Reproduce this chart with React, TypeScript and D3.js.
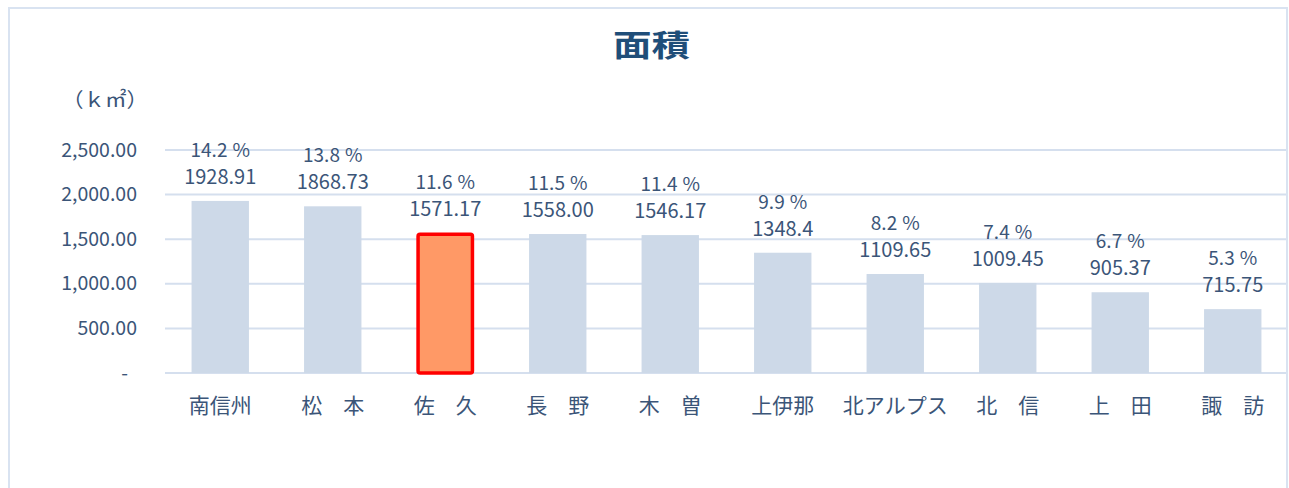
import React from "react";
import * as d3 from "d3";

const categories = ["南信州", "松　本", "佐　久", "長　野", "木　曽", "上伊那", "北アルプス", "北　信", "上　田", "諏　訪"];
const areas = [1928.91, 1868.73, 1571.17, 1558.0, 1546.17, 1348.4, 1109.65, 1009.45, 905.37, 715.75];
const areaLabels = ["1928.91", "1868.73", "1571.17", "1558.00", "1546.17", "1348.4", "1109.65", "1009.45", "905.37", "715.75"];
const shares = ["14.2", "13.8", "11.6", "11.5", "11.4", "9.9", "8.2", "7.4", "6.7", "5.3"];
const yTicks = [0, 500, 1000, 1500, 2000, 2500];
const highlightIndex = 2;

const W = 1289;
const H = 488;
const FONT = "'Noto Sans CJK JP', 'Noto Sans', sans-serif";
const TEXT = "#3B5578";

export default function App() {
  const x = d3.scaleBand<string>().domain(categories).range([164, 1289]).paddingInner(0.49).paddingOuter(0.245);
  const y = d3.scaleLinear().domain([0, 2500]).range([373, 150]);
  const fmt = d3.format(",.2f");

  return (
    <svg width={W} height={H} style={{ position: "fixed", left: 0, top: 0, background: "#fff" }} fontFamily={FONT}>
      <rect x={0} y={0} width={W} height={H} fill="#fff" />
      <rect x={9} y={8} width={1278} height={520} fill="none" stroke="#D9E3F1" strokeWidth={2} />
      <text x={651.5} y={56} textAnchor="middle" fontSize={30} fontWeight="bold" fill="#1F4E79" textLength={77} lengthAdjust="spacingAndGlyphs">面積</text>
      <text x={62} y={107} fontSize={20} fill={TEXT} textLength={86} lengthAdjust="spacingAndGlyphs">（ｋ㎡）</text>
      {yTicks.map((t) => (
        <g key={t}>
          <line x1={165} x2={1286} y1={y(t)} y2={y(t)} stroke="#D5DFEE" strokeWidth={2} />
          <text x={t === 0 ? 128 : 137} y={y(t) + 6.5} textAnchor="end" fontSize={19.5} fill={TEXT}>
            {t === 0 ? "-" : fmt(t)}
          </text>
        </g>
      ))}
      {categories.map((c, i) => {
        const bx = x(c)!;
        const bw = x.bandwidth();
        const top = y(areas[i]);
        const cx = bx + bw / 2;
        const hl = i === highlightIndex;
        return (
          <g key={c}>
            {hl ? (
              <rect x={bx + 1.5} y={top + 1.5} width={bw - 3} height={y(0) - top - 1.5} rx={2} fill="#FF9966" stroke="#FF0000" strokeWidth={3.5} />
            ) : (
              <rect x={bx} y={top} width={bw} height={y(0) - top} fill="#CDD9E8" />
            )}
            <text x={cx} y={top - 44} textAnchor="middle" fontSize={19} fill={TEXT}>
              <tspan>{shares[i]}</tspan>
              <tspan dx={5}>%</tspan>
            </text>
            <text x={cx} y={top - 17} textAnchor="middle" fontSize={20} fill={TEXT}>{areaLabels[i]}</text>
            <text x={cx} y={413} textAnchor="middle" fontSize={21} fill={TEXT}>{c}</text>
          </g>
        );
      })}
    </svg>
  );
}
